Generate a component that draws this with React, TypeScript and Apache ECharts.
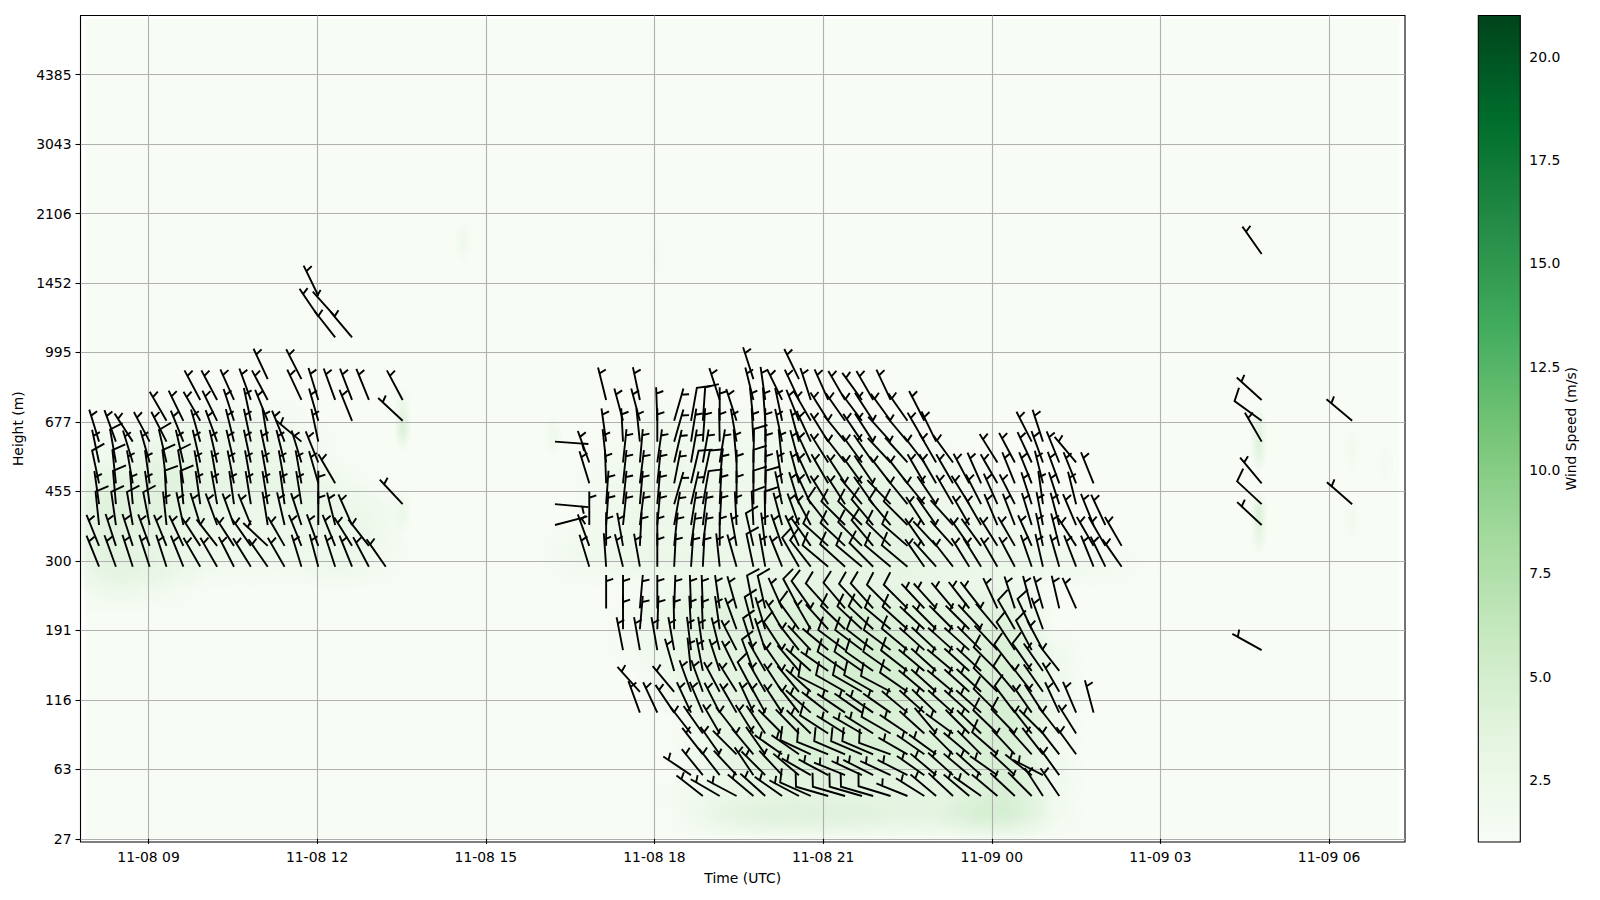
import React, { useEffect, useRef } from "react";
import * as echarts from "echarts";

const FONT = "DejaVu Sans";
const timeTicks = [9, 12, 15, 18, 21, 24, 27, 30];
const timeLabels = ["11-08 09", "11-08 12", "11-08 15", "11-08 18", "11-08 21", "11-09 00", "11-09 03", "11-09 06"];
const levelTicks = [0, 10, 20, 30, 40, 50, 60, 70, 80, 90, 100, 110];
const heightLabels = ["27", "63", "116", "191", "300", "455", "677", "995", "1452", "2106", "3043", "4385"];
const colorTicks = [2.5, 5, 7.5, 10, 12.5, 15, 17.5, 20];
const greens = ["#f7fcf5", "#e5f5e0", "#c7e9c0", "#a1d99b", "#74c476", "#41ab5d", "#238b45", "#006d2c", "#00441b"];

// hour of each barb column, hours since 11-08 00:00
const timesA = [8.12, 8.42, 8.72, 9.02, 9.32, 9.62, 9.92, 10.22, 10.52, 10.82, 11.12, 11.42, 11.72, 12.02, 12.32, 12.62, 12.92, 13.22, 13.52];
const timesB = [16.84, 17.14, 17.44, 17.74, 18.05, 18.35, 18.65, 18.86, 19.16, 19.46, 19.76, 19.97, 20.27, 20.57, 20.78, 21.09, 21.39, 21.69, 21.89, 22.2, 22.5, 22.8, 23.01, 23.31, 23.6, 23.81, 24.1, 24.41, 24.71, 24.91, 25.2, 25.5, 25.81, 26.02, 26.31];
const timeLone = [16.23];
const timesC = [28.8, 30.41];

const _ = null;
// shaft tilt in degrees west of north, by row (level step 3)
const a11 = [22, 20, 18, 18, 18, 22, 30, 30, 27, 32, 35, 30, 17, 15, 18, 22, 28, 35];
const a12 = [22, 18, 18, 20, 22, 25, 33, 38, 33, 35, 47, 30, 22, 20, 22, 32, 38];
const a13 = [6, 8, 10, 11, 6, 12, 17, 20, 20, 22, 9, 13, 18, 0, 14, 24];
const a14 = [8, 5, 5, 8, 3, 5, 8, 10, 8, 9, 9, 8, 9, 0, _, _, _, _, 43];
const a15 = [12, 6, 10, 8, 7, 9, 10, 10, 11, 10, 10, 10, 10, 16, 30];
const a16 = [12, 10, 17, 16, 13, 13, 13, 13, 13, 12, 12, 14, 17, 22];
const a17 = [17, 20, 33, 28, 27, 22, 16, 20, 14, 12, 9, 22, 50, 12];
const a18 = [_, _, _, _, 30, 26, 30, 26, 18, 12, 22, _, _, 16, _, 22, _, _, 47];
const a19 = [_, _, _, _, _, _, 28, 28, 24, 20, 28, _, 25, 17, 20, 21, 22, _, 28];
const a20 = [_, _, _, _, _, _, _, _, _, _, 25, _, 27];
const a22 = [_, _, _, _, _, _, _, _, _, _, _, _, _, _, 38, 40];
const a23 = [_, _, _, _, _, _, _, _, _, _, _, _, _, 34, 42];
const a24 = [_, _, _, _, _, _, _, _, _, _, _, _, _, 26];

const b0 = [_, _, _, _, _, _, _, 52, 60, 62, 50, 48, 55, 62, 66, 74, 74, 74, 74, 73, 68, 58, 50, 47, 50, 55, 50, 47, 45, 33, 34];
const b1 = [_, _, _, _, _, _, 56, 39, 38, 43, 34, 45, 43, 50, 60, 62, 68, 65, 63, 65, 63, 55, 50, 48, 50, 48, 55, 47, 52, 63, 36];
const b2 = [_, _, _, _, _, _, _, 38, 35, 45, 40, 35, 55, 55, 65, 68, 67, 67, 67, 70, 60, 55, 54, 45, 50, 45, 49, 43, 42, 38, 38, 36];
const b3 = [_, _, _, _, _, _, 38, 35, 30, 38, 32, 34, 45, 44, 46, 57, 58, 60, 58, 60, 56, 48, 40, 54, 45, 46, 46, 44, 38, 45, 38, 32];
const b4 = [_, _, _, 20, 25, 34, 25, 23, 27, 30, 25, 29, 33, 38, 48, 52, 56, 55, 55, 55, 50, 48, 46, 48, 48, 48, 45, 37, 35, 33, 25, 23, 15];
const b5 = [_, _, _, 42, _, 40, 20, 20, 28, 32, 28, 30, 33, 40, 48, 63, 60, 60, 60, 62, 55, 50, 48, 50, 48, 47, 45, 40, 38, 35, 30];
const b6 = [_, _, _, _, _, 16, 6, 11, 18, 26, 20, 30, 35, 40, 48, 55, 55, 55, 55, 55, 52, 50, 48, 50, 48, 47, 45, 38, 35, 35, 38];
const b7 = [_, _, 11, 10, 10, 10, 7, 8, 14, 27, 18, 18, 33, 38, 43, 50, 53, 53, 52, 53, 50, 48, 47, 48, 48, 45, 43, 33, 28, 28];
const b8 = [_, _, 0, -5, -2, 1, 3, 2, 8, 20, 15, 17, 30, 36, 30, 42, 46, 47, 47, 50, 48, 47, 45, 45, 45, 43, 40, 30, 25, 20];
const b9 = [_, 0, 0, -5, 0, -2, 2, 2, 8, 16, 11, 13, 24, 28, 35, 42, 40, 43, 42, 45, 45, 43, 42, 40, 38, 38, 25, 18, 15, 16, 13, 24];
const b11 = [17, 4, 14, 10, 0, -3, -4, -3, 6, 16, 12, 10, 22, 30, 38, 50, 48, 50, 45, 50, 50, 35, 42, 38, 32, 32, 30, 28, 19, 13, 16, 21, 22, 26, 35];
const b12 = [20, 0, 10, -3, 0, -6, -8, -7, 0, 10, 13, 7, 19, 24, 35, 48, 47, 45, 40, 46, 49, 35, 43, 42, 35, 36, 32, 30, 24, 12, 14, 33, 30, 30, 30];
const b13 = [0, -4, -6, -7, -5, -10, -9, -7, -3, 3, 3, 1, 15, 20, 28, 38, 45, 45, 40, 40, 45, 33, 35, 42, 30, 30, 23, 21, 17, 11, 15, 23, 22, 25];
const b14 = [_, -4, -6, -5, -5, -16, -13, -10, -3, 0, 0, -1, 12, 17, 25, 32, 33, 40, 35, 44, 39, 39, 34, 30, 32, 27, 24, 27, 18, 8, 18, 14];
const b15 = [17, 2, -6, -7, -6, -11, -13, -12, -5, 0, 0, -1, 9, 15, 25, 30, 33, 36, 34, 38, 38, 30, 30, 30, 28, 24, 30, 22, 22, 14, 20, 22, 22];
const b16 = [20, 6, -6, -5, -8, -13, -10, -10, -9, 5, -1, -1, 6, 15, 25, 32, 38, 36, 35, 43, 42, 38, 30, 36, _, _, 32, 28, 25, 20, 22, 40];
const b17 = [_, 8, 3, 6, 0, -16, -9, -4, 1, 10, 3, 0, 12, 15, 25, 32, 39, 34, 33, 42, 40, 30, 26, _, _, _, _, _, 27, 18];
const b18 = [_, _, 15, 15, 2, -16, -10, -4, 0, 18, 6, 4, 12, 22, 30, 32, 35, 37, 33, 36, 35, 27];
const b19 = [_, 14, _, 12, _, _, _, _, 18, _, 14, 8, 26, 25, 18, 24, 30, 36, 30, 25];
const b20 = [_, _, _, _, _, _, _, _, _, _, 18, _, _, 26];

// columns holding a full barb (about 6 m/s); every other barb is a half barb (about 3 m/s)
const fullA13 = [0, 1, 2, 3];
const fullA14 = [1, 4, 5];
const fullA15 = [0, 1, 4, 5];
const fullA16 = [1, 4];
const fullB0 = [14, 15, 16, 17, 18, 19];
const fullB2 = [14, 15, 16, 17, 18, 19, 26];
const fullB3 = [15, 19, 26, 27];
const fullB4 = [26, 27];
const fullB5 = [10, 15, 16, 17, 18, 19, 20, 26, 27];
const fullB6 = [10, 16, 17, 18, 19, 20, 26, 27, 28];
const fullB7 = [10, 12, 16, 17, 18, 19, 20, 27, 28];
const fullB8 = [10, 13, 16, 17, 18, 19, 20, 27, 28];
const fullB9 = [10, 11, 13, 14, 15, 16, 17, 18, 19, 20];
const fullB11 = [10, 13, 14, 15, 16, 17, 18, 19, 20];
const fullB12 = [10, 15, 16, 17, 18, 19, 20];
const fullB13 = [10, 11, 15, 16, 17, 18, 19, 20];
const fullB14 = [7, 10, 11];
const fullB15 = [6, 7, 10];
const fullB16 = [10];
const fullB18 = [6, 7];

// lone barbs: [row, tilt, speed]
const loneBarbs = [[17, -94, 3], [14, -95, 3], [13, -75, 3]];
const barbsC0 = [[26, 35, 3], [19, 48, 3], [18, 54, 6], [17, 30, 3], [15, 40, 3], [14, 47, 6], [13, 47, 3], [7, 61, 3]];
const barbsC1 = [[18, 50, 3], [14, 49, 3]];

// wind speed on a coarse grid (0.6 h wide, 3 levels tall): [row, first column, values]
const heatM1 = [-1, 18, [2.2, 3.2, 3.6, 3.6, 3.6, 3.2, 2.8, 3.2, 4.6, 4.6, 1.8]];
const heat0 = [0, 17, [1.3, 1.8, 2.2, 2.6, 2.6, 2.6, 2.6, 2.6, 2.6, 3.6, 4.2, 1.8]];
const heat1 = [1, 18, [1.8, 2.6, 3, 3.2, 3.2, 3.2, 2.8, 2.8, 3.6, 4, 2]];
const heat2 = [2, 18, [2, 3, 3.5, 4, 4, 4, 3.5, 3.5, 4, 4, 1.7]];
const heat3 = [3, 18, [2, 3, 3.5, 4, 4, 4, 3.5, 3.5, 4, 4.5, 2]];
const heat4 = [4, 18, [2.5, 3, 3.5, 4, 4.5, 4, 3.5, 3.5, 4, 4.5, 2]];
const heat5 = [5, 17, [2, 2.5, 3, 3.5, 4, 4.5, 4.5, 4, 3.5, 4, 4, 2]];
const heat6 = [6, 17, [2, 2.5, 3, 3.5, 4, 4.5, 4.5, 4, 3.5, 3.5, 4, 2]];
const heat7 = [7, 16, [1.5, 2, 3, 3, 3.5, 4, 4.5, 4.5, 4, 3.5, 3.5, 4, 2]];
const heat8 = [8, 16, [1.5, 2, 3, 3, 3.5, 4, 4.5, 4, 3.5, 3, 3, 3.5]];
const heat9 = [9, 16, [1.5, 2.5, 3, 3, 3.5, 3.5, 4, 3.5, 3, 3, 3, 3]];
const heat10 = [10, 17, [1.5, 2, 2.2, 2.4, 2.5, 2.5, 2.4, 2.2, 2, 2, 1.8]];
const heat11 = [11, 14, [1.4, 1.6, 2, 2.2, 2, 2, 2, 2.5, 2.5, 2.5, 2.5, 2.2, 2, 2, 1.8, 1.6, 1.4]];
const heat12 = [12, 14, [1.6, 1.8, 2, 2, 2, 2, 2.2, 2.5, 3, 3, 2.5, 2, 2, 1.8, 1.6, 1.4]];
const heat13 = [13, 15, [1.7, 2, 2, 1.8, 1.8, 2.2, 2.8, 3.2, 3, 2.5, 2, 1.8, 1.6, 1.4]];
const heat14 = [14, 15, [1.7, 2, 2, 1.8, 1.8, 2.2, 3, 3.2, 2.8, 2.2, 1.8, 1.6, 1.5]];
const heat15 = [15, 15, [1.5, 1.8, 2, 1.8, 1.7, 2, 2.8, 3, 2.5, 2, 1.7, 1.5]];
const heat16 = [16, 15, [1.4, 1.7, 1.8, 1.7, 1.6, 1.8, 2.2, 2.5, 2, 1.7, 1.5]];
const heat17 = [17, 16, [1.6, 1.7, 1.6, 1.5, 1.6, 1.8, 1.8, 1.6, 1.4]];
const heat18 = [18, 16, [1.4, 1.5, 1.4, 1.3, 1.4, 1.4, 1.3]];
const heatA10 = [10, 0, [2, 2, 1.5]];
const heatA11 = [11, 0, [3, 2.8, 2.5, 1.6, 1.5, 1.5, 1.5, 2, 1.5]];
const heatA12 = [12, 0, [3.2, 2.5, 2, 2, 1.8, 1.8, 1.8, 2, 1.8]];
const heatA13 = [13, 0, [3.2, 3, 2.8, 2, 1.8, 1.8, 2, 2, 2]];
const heatA14 = [14, 0, [3.5, 3, 3, 2.5, 2, 2, 2.5, 2, 1.8]];
const heatA15 = [15, 0, [3, 2.8, 3.5, 2.5, 2.5, 2.5, 2.2, 1.8]];
const heatA16 = [16, 0, [1.8, 2, 2.8, 2.2, 2, 2, 1.8]];
const heatA17 = [17, 0, [1.5, 1.5, 2, 2, 2, 2, 1.6]];
const heatA18 = [18, 2, [1.5, 1.6, 1.8, 1.8]];

// small isolated patches: [hour, level, speed]
const heatSpots = [[13.52, 59, 3], [13.52, 62, 2], [13.52, 47, 1.8], [28.75, 59, 2.4], [28.75, 56, 2.6], [28.75, 47, 3], [28.75, 44, 2.2], [30.4, 56, 1.5], [30.4, 46, 1.5], [16.2, 58, 1.7], [14.6, 86, 1.6], [18.05, 84, 1.3], [31, 54, 1.3]];

const rowLevel = (r: number) => 6.17 + 3 * r;

const barbs: number[][] = [];
const addRow = (r: number, times: number[], tilts: (number | null)[], full: number[] = []) => {
  tilts.forEach((tilt, c) => {
    if (tilt !== null) barbs.push([times[c], rowLevel(r), tilt, full.includes(c) ? 6 : 3]);
  });
};
addRow(11, timesA, a11); addRow(12, timesA, a12); addRow(13, timesA, a13, fullA13); addRow(14, timesA, a14, fullA14);
addRow(15, timesA, a15, fullA15); addRow(16, timesA, a16, fullA16); addRow(17, timesA, a17); addRow(18, timesA, a18);
addRow(19, timesA, a19); addRow(20, timesA, a20); addRow(22, timesA, a22); addRow(23, timesA, a23); addRow(24, timesA, a24);
addRow(0, timesB, b0, fullB0); addRow(1, timesB, b1); addRow(2, timesB, b2, fullB2); addRow(3, timesB, b3, fullB3);
addRow(4, timesB, b4, fullB4); addRow(5, timesB, b5, fullB5); addRow(6, timesB, b6, fullB6); addRow(7, timesB, b7, fullB7);
addRow(8, timesB, b8, fullB8); addRow(9, timesB, b9, fullB9); addRow(11, timesB, b11, fullB11); addRow(12, timesB, b12, fullB12);
addRow(13, timesB, b13, fullB13); addRow(14, timesB, b14, fullB14); addRow(15, timesB, b15, fullB15); addRow(16, timesB, b16, fullB16);
addRow(17, timesB, b17); addRow(18, timesB, b18, fullB18); addRow(19, timesB, b19); addRow(20, timesB, b20);
loneBarbs.forEach((b) => barbs.push([timeLone[0], rowLevel(b[0]), b[1], b[2]]));
barbsC0.forEach((b) => barbs.push([timesC[0], rowLevel(b[0]), b[1], b[2]]));
barbsC1.forEach((b) => barbs.push([timesC[1], rowLevel(b[0]), b[1], b[2]]));

const heatRows: any[] = [heatM1, heat0, heat1, heat2, heat3, heat4, heat5, heat6, heat7, heat8, heat9, heat10, heat11, heat12, heat13, heat14, heat15, heat16, heat17, heat18, heatA10, heatA11, heatA12, heatA13, heatA14, heatA15, heatA16, heatA17, heatA18];
// [centre hour, centre level, speed, half width in hours, half height in levels, overlap factor]
const heatCells: number[][] = [];
heatRows.forEach(([r, k0, vals]) => {
  vals.forEach((v: number, i: number) => heatCells.push([7.87 + 0.6 * (k0 + i) + 0.3, rowLevel(r), v, 0.78, 3.9, 2.1]));
});
heatSpots.forEach(([t, l, v]) => heatCells.push([t, l, v, 0.16, 3.2, 1]));

const BARB = 33.5;
const renderBarb = (params: any, api: any) => {
  const [bx, by] = api.coord([api.value(0), api.value(1)]);
  const th = (api.value(2) * Math.PI) / 180;
  const ux = -Math.sin(th), uy = -Math.cos(th);
  const rx = -uy, ry = ux;
  const full = api.value(3) >= 5;
  const at = full ? BARB : 0.8125 * BARB;
  const h = (full ? 0.4 : 0.21) * BARB;
  const w = (full ? 0.125 : 0.07) * BARB;
  const px = bx + ux * at, py = by + uy * at;
  const tip = [bx + ux * BARB, by + uy * BARB];
  const points = full
    ? [[bx, by], [px, py], [px + rx * h + ux * w, py + ry * h + uy * w]]
    : [[bx, by], [px, py], [px + rx * h + ux * w, py + ry * h + uy * w], [px, py], tip];
  return {
    type: "polyline",
    shape: { points },
    style: { stroke: "#000", fill: null, lineWidth: 1.9, lineJoin: "miter" },
    silent: true,
  };
};

const kernel = [[0, 1], [0.25, 0.86], [0.5, 0.556], [0.75, 0.267], [1, 0]];
const renderHeat = (params: any, api: any) => {
  const t = api.value(0), l = api.value(1), dt = api.value(3), dl = api.value(4);
  const [x0, y0] = api.coord([t - dt, l - dl]);
  const [x1, y1] = api.coord([t + dt, l + dl]);
  const peak = (1.1 * (api.value(2) - 1)) / 7.5 / api.value(5);
  return {
    type: "rect",
    shape: { x: x0, y: y1, width: x1 - x0, height: y0 - y1 },
    style: {
      fill: new echarts.graphic.RadialGradient(0.5, 0.5, 0.5, kernel.map(([offset, k]) => ({ offset, color: `rgba(161,217,155,${(peak * k).toFixed(4)})` }))),
    },
    silent: true,
  };
};

const renderBackground = (params: any, api: any) => {
  const [x0, y0] = api.coord([api.value(0), api.value(1)]);
  const [x1, y1] = api.coord([api.value(2), api.value(3)]);
  return { type: "rect", shape: { x: x0, y: y1, width: x1 - x0, height: y0 - y1 }, style: { fill: greens[0] }, silent: true };
};

const renderColorbar = (params: any, api: any) => {
  const [x0, y0] = api.coord([0, api.value(0)]);
  const [x1, y1] = api.coord([1, api.value(1)]);
  return {
    type: "rect",
    shape: { x: x0, y: y1, width: x1 - x0, height: y0 - y1 },
    style: {
      fill: new echarts.graphic.LinearGradient(0, 1, 0, 0, greens.map((color, i) => ({ offset: i / (greens.length - 1), color }))),
      stroke: "#000",
      lineWidth: 1.1,
    },
    silent: true,
  };
};

const text = { color: "#000", fontFamily: FONT, fontSize: 13.9 };
const tick = { show: true, length: 5, lineStyle: { color: "#000", width: 1.1 } };

export default function App() {
  const ref = useRef<HTMLDivElement>(null);
  useEffect(() => {
    const chart = echarts.init(ref.current!, undefined, { renderer: "svg" });
    chart.setOption({
      animation: false,
      backgroundColor: "#fff",
      textStyle: { fontFamily: FONT },
      grid: [
        { left: 80.5, top: 15.5, width: 1324.5, height: 826.5, show: true, borderColor: "#000", borderWidth: 1.1, backgroundColor: "transparent" },
        { left: 1478.3, top: 15.5, width: 42, height: 826.5 },
      ],
      xAxis: [
        {
          type: "value", gridIndex: 0, min: 7.79, max: 31.35,
          name: "Time (UTC)", nameLocation: "middle", nameGap: 29, nameTextStyle: text,
          axisLine: { show: false },
          axisTick: { ...tick, customValues: timeTicks },
          axisLabel: { ...text, margin: 8, customValues: timeTicks, formatter: (v: number) => timeLabels[timeTicks.indexOf(v)] ?? "" },
          splitLine: { show: true, lineStyle: { color: "#b0b0b0", width: 1.1 } },
        },
        { type: "value", gridIndex: 1, min: 0, max: 1, show: false },
      ],
      yAxis: [
        {
          type: "value", gridIndex: 0, min: -0.45, max: 118.5,
          name: "Height (m)", nameLocation: "middle", nameGap: 52, nameRotate: 90, nameTextStyle: text,
          axisLine: { show: false },
          axisTick: { ...tick, customValues: levelTicks },
          axisLabel: { ...text, margin: 9, customValues: levelTicks, formatter: (v: number) => heightLabels[levelTicks.indexOf(v)] ?? "" },
          splitLine: { show: true, lineStyle: { color: "#b0b0b0", width: 1.1 } },
        },
        {
          type: "value", gridIndex: 1, position: "right", min: 1, max: 21,
          name: "Wind Speed (m/s)", nameLocation: "middle", nameGap: 44, nameRotate: 90, nameTextStyle: text,
          axisLine: { show: false },
          axisTick: { ...tick, customValues: colorTicks },
          axisLabel: { ...text, margin: 9, customValues: colorTicks, formatter: (v: number) => v.toFixed(1) },
          splitLine: { show: false },
        },
      ],
      series: [
        { type: "custom", xAxisIndex: 0, yAxisIndex: 0, z: -3, clip: true, renderItem: renderBackground, data: [[7.87, 0, 31.25, 118]], encode: { x: [0, 2], y: [1, 3] } },
        { type: "custom", xAxisIndex: 0, yAxisIndex: 0, z: -2, clip: true, renderItem: renderHeat, data: heatCells, encode: { x: 0, y: 1 } },
        { type: "custom", xAxisIndex: 0, yAxisIndex: 0, z: 5, clip: true, renderItem: renderBarb, data: barbs, encode: { x: 0, y: 1 } },
        { type: "custom", xAxisIndex: 1, yAxisIndex: 1, z: 2, renderItem: renderColorbar, data: [[1, 21]], encode: { y: [0, 1] } },
      ],
    });
    return () => chart.dispose();
  }, []);
  return <div ref={ref} style={{ position: "fixed", left: 0, top: 0, width: 1600, height: 900 }} />;
}
